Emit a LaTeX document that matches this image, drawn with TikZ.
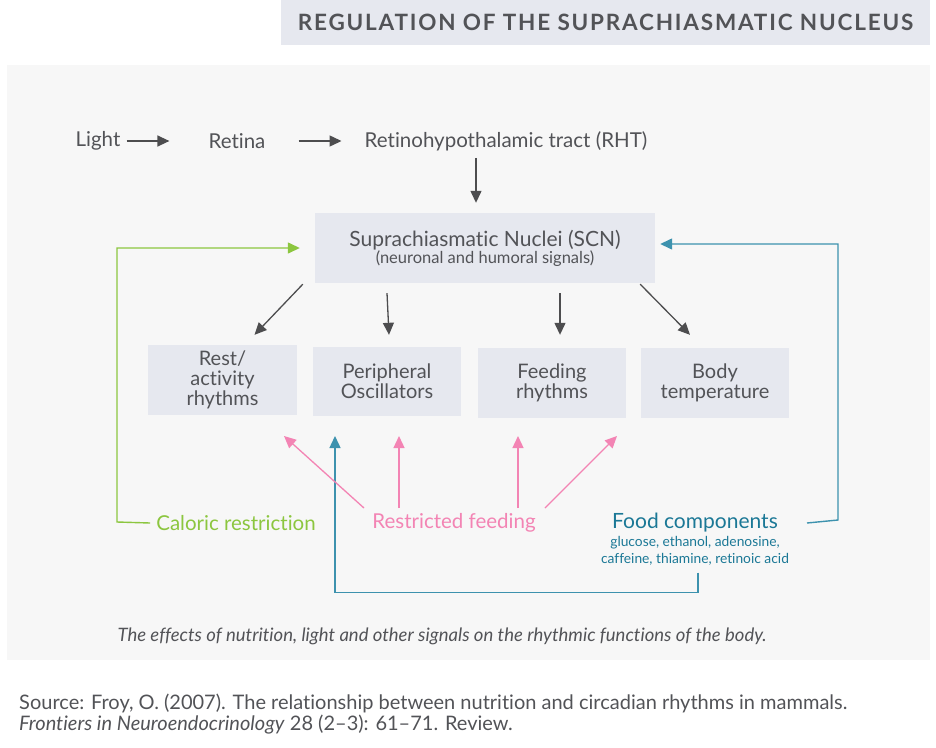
\documentclass[tikz,border=0pt]{standalone}
\usepackage{fontspec}
\setmainfont{Lato}[Ligatures={NoCommon}]
\usetikzlibrary{arrows.meta,calc}
\definecolor{txtgray}{HTML}{525357}
\definecolor{boxfill}{HTML}{E6E8EF}
\definecolor{panelfill}{HTML}{F7F7F7}
\definecolor{arrgray}{HTML}{4D4D4F}
\definecolor{calgreen}{HTML}{8CC63F}
\definecolor{rfpink}{HTML}{F384B4}
\definecolor{fcteal}{HTML}{1B7896}
\definecolor{fcline}{HTML}{3D92AE}
\tikzset{%
  lbl/.style      = {text=txtgray, inner sep=1pt, font=\fontsize{20.5}{20}\selectfont},%
  box/.style      = {shape=rectangle, fill=boxfill, align=center, text=txtgray,%
                     minimum width=148, minimum height=70,%
                     font=\fontsize{20}{20}\selectfont},%
  grayarrow/.style= {draw=arrgray, line width=1.3pt, -{Triangle[length=12pt,width=11pt]}},%
  pinkarrow/.style= {draw=rfpink, line width=1.3pt, -{Triangle[length=12pt,width=11pt]}},%
  greenline/.style= {draw=calgreen, line width=1.4pt, -{Triangle[length=12pt,width=11pt]}},%
  tealline/.style = {draw=fcline, line width=1.4pt, -{Triangle[length=12pt,width=11pt]}}%
}
\begin{document}
\begin{tikzpicture}[x=1pt,y=-1pt]%
	\useasboundingbox (0,0) rectangle (936,747);
	% header and panel
	\node (title) at (605.5,22.5) [shape=rectangle, fill=boxfill, minimum width=649, minimum height=45,%
		text=txtgray, font=\fontsize{22.5}{22}\selectfont\bfseries\addfontfeature{LetterSpace=8}]%
		{REGULATION OF THE SUPRACHIASMATIC NUCLEUS};
	\fill[panelfill] (7,65) rectangle (930,660);
	% light path
	\node (light) at (98,141) [lbl] {Light};
	\node (retina) at (237,141) [lbl] {Retina};
	\node (rht) at (506,141) [lbl] {Retinohypothalamic tract (RHT)};
	\draw[grayarrow] ([xshift=5]light.east) -- ([xshift=-38]retina.west);
	\draw[grayarrow] ([xshift=32]retina.east) -- ([xshift=-22]rht.west);
	% SCN
	\node (scn) at (485,248) [box, minimum width=340, minimum height=70, font=\fontsize{21}{20}\selectfont] {%
		Suprachiasmatic Nuclei (SCN)\\[-3pt]{\fontsize{16.5}{16}\selectfont(neuronal and humoral signals)}};
	\draw[grayarrow] ($(rht.south)+(-30,6)$) -- ($(scn.north)+(-9,-10)$);
	% rhythmic functions
	\node (rest)   at (222.5,380) [box, minimum width=149] {Rest/\\activity\\rhythms};
	\node (periph) at (387,381.5) [box, minimum height=69] {Peripheral\\Oscillators};
	\node (feedr)  at (552,383)   [box] {Feeding\\rhythms};
	\node (body)   at (715,383)   [box] {Body\\temperature};
	\draw[grayarrow] ($(scn.south west)+(-12,1)$) -- ($(rest.north)+(32,-10)$);
	\draw[grayarrow] (scn.south -| periph.north) ++(0,10) -- ($(periph.north)+(2,-12)$);
	\draw[grayarrow] (scn.south -| feedr.north) ++(8,10) -- ($(feedr.north)+(8,-13)$);
	\draw[grayarrow] ($(scn.south east)+(-15,1)$) -- ($(body.north)+(-25,-13)$);
	% nutritional signals
	\node (calo) at (236,523) [lbl, text=calgreen] {Caloric restriction};
	\node (feed) at (454,523) [lbl, text=rfpink] {Restricted feeding};
	\node (food) at (695,523) [lbl, text=fcteal, font=\fontsize{21}{20}\selectfont] {Food components};
	\node (foodsub) at (695,551) [lbl, text=fcteal, align=center, font=\fontsize{13.8}{17}\selectfont]%
		{glucose, ethanol, adenosine,\\caffeine, thiamine, retinoic acid};
	\coordinate (r1) at (284,436);
	\coordinate (r2) at (399,436);
	\coordinate (r3) at (518,436);
	\coordinate (r4) at (617,436);
	\coordinate (fc) at (335,436);
	\draw[greenline] ([xshift=-5]calo.west) -- (117,522) |- ([xshift=-15]scn.west);
	\draw[tealline] ([xshift=28]food.east) -- (838,520) |- ([xshift=5,yshift=4]scn.east);
	\draw[tealline] ([xshift=3,yshift=-6]foodsub.south) -- ++(0,20) -| (fc);
	\draw[pinkarrow] (364,508) -- (r1);
	\draw[pinkarrow] (399,508) -- (r2);
	\draw[pinkarrow] (518,508) -- (r3);
	\draw[pinkarrow] (545,508) -- (r4);
	% caption and source
	\node (caption) at (442,636) [lbl, font=\fontsize{18.5}{18}\selectfont\itshape] {The effects of nutrition, light and other signals on the rhythmic functions of the body.};
	\node (src1) at (18,703) [lbl, anchor=west, font=\fontsize{20}{20}\selectfont] {Source: Froy, O. (2007). The relationship between nutrition and circadian rhythms in mammals.};
	\node (src2) at (18,725) [lbl, anchor=west, font=\fontsize{20}{20}\selectfont] {\textit{Frontiers in Neuroendocrinology} 28 (2–3): 61–71. Review.};
\end{tikzpicture}
\end{document}
